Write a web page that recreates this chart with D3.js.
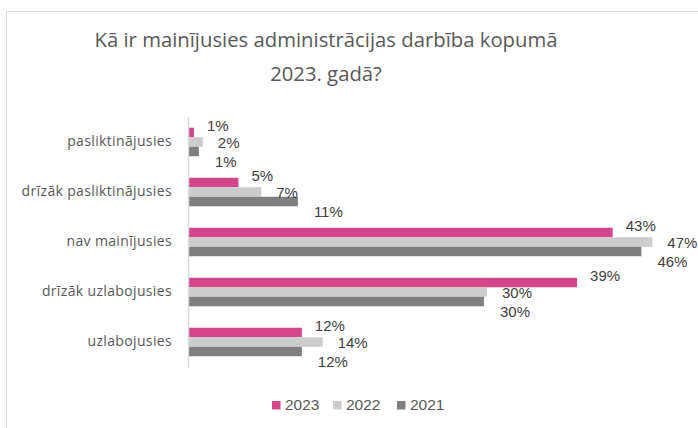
<!DOCTYPE html>
<html><head><meta charset="utf-8">
<script src="https://cdn.jsdelivr.net/npm/d3@7"></script>
<style>body{margin:0;background:#fff}svg{display:block}</style>
</head><body>
<script>
const categories = ["pasliktinājusies","drīzāk pasliktinājusies","nav mainījusies","drīzāk uzlabojusies","uzlabojusies"];
const seriesNames = ["2023","2022","2021"];
const values2023 = [0.6, 5.1, 42.9, 39.3, 11.5];
const values2022 = [1.5, 7.4, 46.9, 30.2, 13.6];
const values2021 = [1.1, 11.1, 45.8, 29.9, 11.5];
const titleLines = ["Kā ir mainījusies administrācijas darbība kopumā","2023. gadā?"];

const W=698,H=428;
const colors={"2023":"#D3468A","2022":"#CCCCCC","2021":"#7F7F7F"};
const seriesVals={"2023":values2023,"2022":values2022,"2021":values2021};
const svg=d3.select("body").append("svg").attr("width",W).attr("height",H);

// frame
svg.append("path").attr("d",`M6.5,${H} V11.5 H${W}`).attr("fill","none").attr("stroke","#d9d9d9").attr("stroke-width",1);

// title
const t=svg.append("text").attr("text-anchor","middle").attr("fill","#595959")
  .attr("font-family","'Open Sans',sans-serif").attr("font-size",20.3);
titleLines.forEach((l,i)=>t.append("tspan").attr("x",326).attr("y",47+i*34).text(l));

const y=d3.scaleBand().domain(categories).range([117,367]).paddingInner(0.43).paddingOuter(0.215);
const ys=d3.scaleBand().domain(seriesNames).range([0,y.bandwidth()]);
const x=d3.scaleLinear().domain([0,50]).range([188,683]);

const g=svg.append("g");
seriesNames.forEach(s=>{
  g.selectAll(null).data(categories).enter().append("rect")
    .attr("x",x(0)).attr("y",c=>y(c)+ys(s))
    .attr("width",(c,i)=>x(seriesVals[s][i])-x(0))
    .attr("height",ys.bandwidth()).attr("fill",colors[s]);
});

// axis
const ax=svg.append("g").attr("transform",`translate(${x(0)},0)`)
  .call(d3.axisLeft(y).tickSize(0).tickPadding(16));
ax.select(".domain").attr("stroke","#d9d9d9").attr("stroke-width",1.5);
ax.selectAll("text").attr("font-family","'Open Sans',sans-serif").attr("font-size",14)
  .attr("letter-spacing","0.35px").attr("fill","#595959");

// data labels
const lblDx={"2023":13,"2022":15,"2021":16};
const lblDy={"2023":-7,"2022":1,"2021":10};
seriesNames.forEach(s=>{
  svg.selectAll(null).data(categories).enter().append("text")
    .attr("x",(c,i)=>x(seriesVals[s][i])+lblDx[s])
    .attr("y",c=>y(c)+ys(s)+ys.bandwidth()/2+lblDy[s])
    .attr("dy","0.35em")
    .attr("font-family","'Liberation Sans',Arial,sans-serif").attr("font-size",15).attr("fill","#404040")
    .text((c,i)=>Math.round(seriesVals[s][i])+"%");
});

// legend
const lx=[272,333,397];
const lg=svg.append("g");
seriesNames.forEach((s,i)=>{
  lg.append("rect").attr("x",lx[i]).attr("y",401).attr("width",8.5).attr("height",8.5).attr("fill",colors[s]);
  lg.append("text").attr("x",lx[i]+13).attr("y",405).attr("dy","0.35em")
    .attr("font-family","'Liberation Sans',Arial,sans-serif").attr("font-size",15.5).attr("fill","#595959").text(s);
});
</script>
</body></html>
